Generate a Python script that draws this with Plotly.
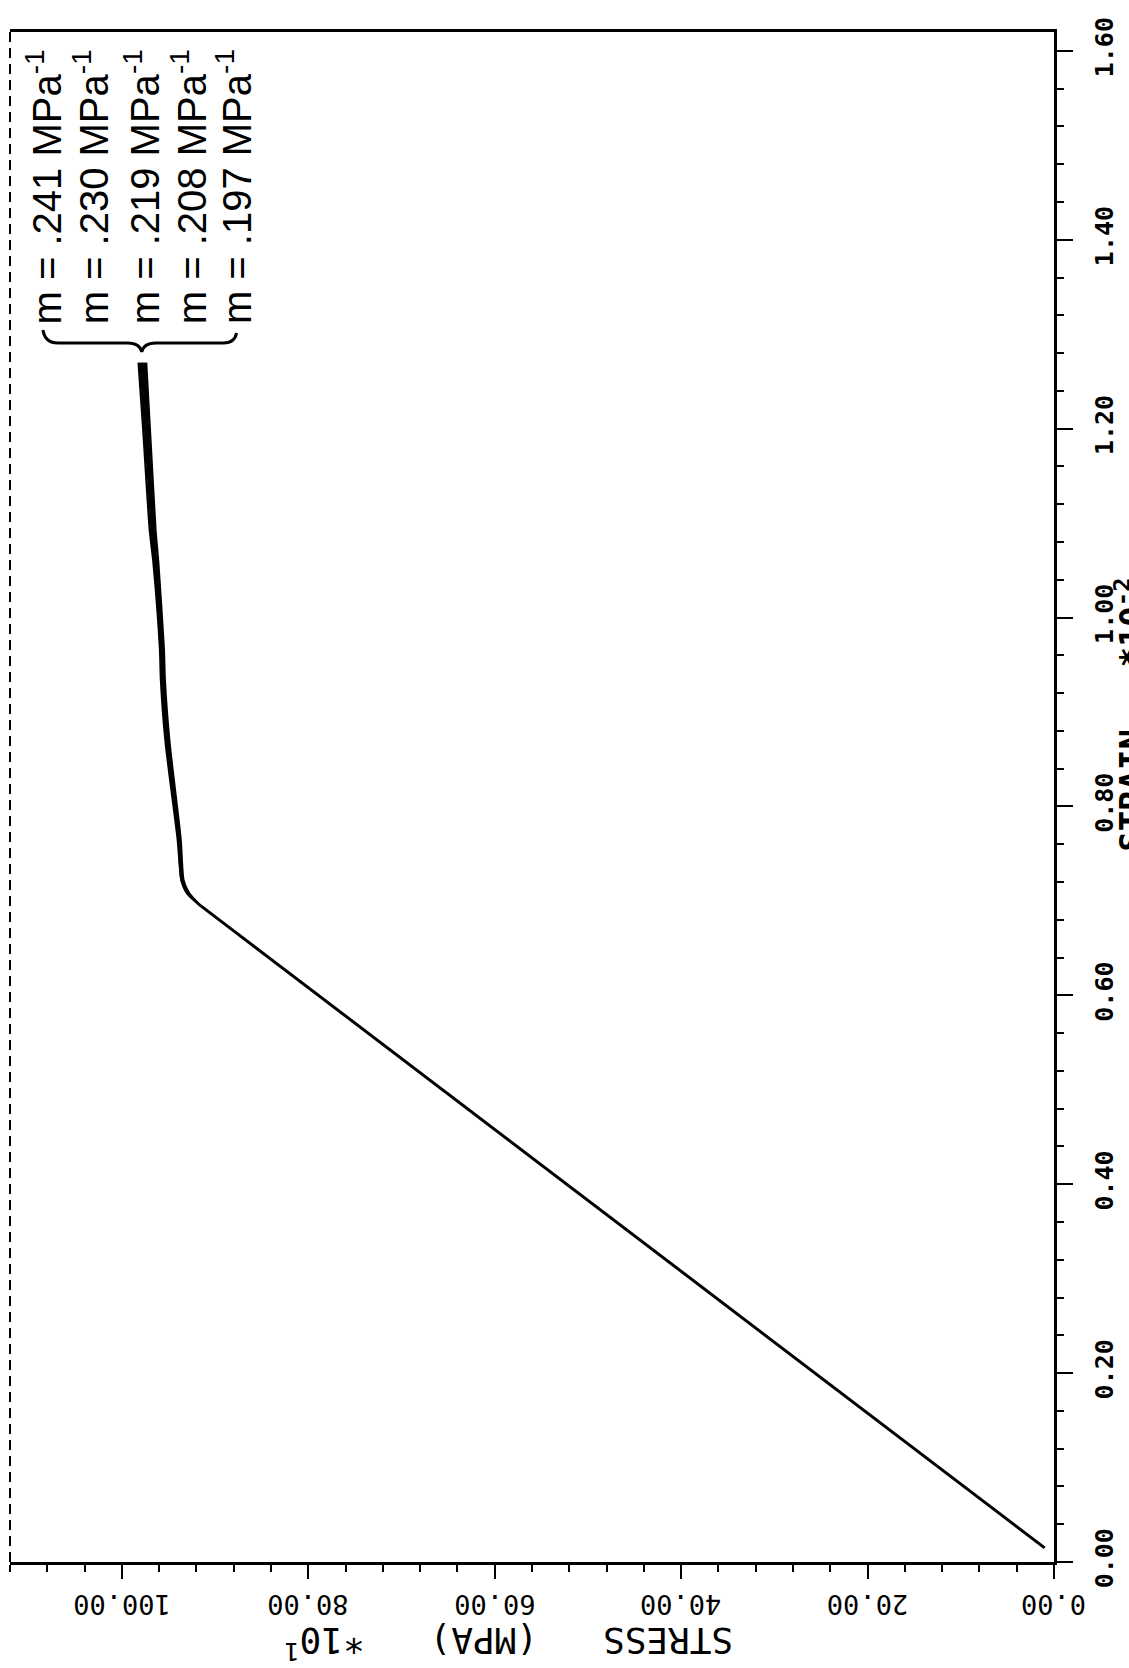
import plotly.graph_objects as go

# ---------------- data ----------------
stress_ticks = [0, 20, 40, 60, 80, 100]
stress_labels = ["0.00", "20.00", "40.00", "60.00", "80.00", "100.00"]
strain_ticks = [0.0, 0.2, 0.4, 0.6, 0.8, 1.0, 1.2, 1.4, 1.6]
strain_labels = ["0.00", "0.20", "0.40", "0.60", "0.80", "1.00", "1.20", "1.40", "1.60"]

# elastic part (stress *10 MPa, strain *10^-2)
elastic_stress = [1.0, 91.7]
elastic_strain = [0.015, 0.696]

# hardening part for the five m values
hard_strain = [0.696, 0.708, 0.722, 0.765, 0.868, 0.934, 0.966, 1.058, 1.093, 1.199, 1.270]
m_values = [".241", ".230", ".219", ".208", ".197"]
hard_stress_241 = [91.7, 92.8, 93.4, 93.7, 94.9, 95.4, 95.5, 96.1, 96.4, 97.0, 97.4]
hard_stress_230 = [91.7, 92.8, 93.5, 93.8, 95.0, 95.5, 95.6, 96.3, 96.6, 97.2, 97.6]
hard_stress_219 = [91.7, 92.9, 93.5, 93.8, 95.1, 95.6, 95.7, 96.4, 96.7, 97.3, 97.8]
hard_stress_208 = [91.7, 92.9, 93.6, 93.9, 95.2, 95.7, 95.8, 96.5, 96.8, 97.5, 98.0]
hard_stress_197 = [91.7, 93.0, 93.6, 94.0, 95.3, 95.8, 95.9, 96.6, 97.0, 97.7, 98.2]
hard_series = [hard_stress_241, hard_stress_230, hard_stress_219, hard_stress_208, hard_stress_197]

# ---------------- layout helpers ----------------
W, H = 1129, 1668
L, R, T, B = 10, 1056, 32, 1562
PW, PH = R - L, B - T


def px(x):
    return (x - L) / PW


def py(y):
    return (B - y) / PH


fig = go.Figure()

fig.add_trace(go.Scatter(x=elastic_stress, y=elastic_strain, mode="lines",
                         line=dict(color="black", width=3), hoverinfo="skip"))
for m, s in zip(m_values, hard_series):
    fig.add_trace(go.Scatter(x=s, y=hard_strain, mode="lines", name="m = " + m,
                             line=dict(color="black", width=2.4, shape="spline", smoothing=0.6),
                             hoverinfo="skip"))

mono = "DejaVu Sans Mono"
fig.update_layout(
    width=W, height=H,
    margin=dict(l=L, r=W - R, t=T, b=H - B, pad=0),
    paper_bgcolor="white", plot_bgcolor="white",
    showlegend=False,
    xaxis=dict(range=[112, 0], tickvals=stress_ticks, showticklabels=False,
               ticks="outside", ticklen=14, tickwidth=2, tickcolor="black",
               showline=True, linewidth=3, linecolor="black", mirror=True,
               showgrid=False, zeroline=False,
               minor=dict(dtick=4, tick0=0, ticks="outside", ticklen=7, tickwidth=2,
                          tickcolor="black", showgrid=False)),
    yaxis=dict(range=[0, 1.62], side="right", tickvals=strain_ticks, ticktext=strain_labels,
               tickangle=-90, ticks="outside", ticklen=16, tickwidth=2, tickcolor="black",
               ticklabelstandoff=10,
               showline=True, linewidth=3, linecolor="black", mirror=False,
               showgrid=False, zeroline=False,
               tickfont=dict(family=mono, size=25, color="black", weight="bold"),
               minor=dict(dtick=0.04, tick0=0, ticks="outside", ticklen=7, tickwidth=2,
                          tickcolor="black", showgrid=False)),
)

nb = "\u00a0"
annotations = []
# upside-down stress tick labels, centred under their ticks
for v, lab in zip(stress_ticks, stress_labels):
    annotations.append(dict(text=lab, x=v, xref="x", y=py(1621), yref="paper",
                            showarrow=False, textangle=180, borderpad=0,
                            font=dict(family=mono, size=27, color="black")))
annotations += [
    dict(text="STRESS" + nb * 3 + "(MPA)" + nb * 3 + "*10<sup>1</sup>",
         x=px(510), y=py(1667), xref="paper", yref="paper", showarrow=False,
         textangle=180, borderpad=0,
         font=dict(family=mono, size=36, color="black")),
    dict(text="STRAIN" + nb * 3 + "*10<sup>-2</sup>",
         x=px(1155), y=py(715), xref="paper", yref="paper", showarrow=False,
         textangle=-90, borderpad=0,
         font=dict(family=mono, size=34, color="black", weight="bold")),
]
legend_x = [44, 91, 142, 189, 234]
for m, lx in zip(m_values, legend_x):
    annotations.append(dict(text="m = " + m + " MPa<sup>-1</sup>",
                            x=px(lx), y=py(325), xref="paper", yref="paper",
                            xanchor="center", yanchor="bottom", showarrow=False,
                            textangle=-90, borderpad=0,
                            font=dict(family="Liberation Sans", size=40, color="black")))
fig.update_layout(annotations=annotations)

# brace under the legend and dashed left frame
brace_pts = [(43, 330), (45, 343), (58, 343), (128, 343), (140, 343), (142, 352),
             (144, 343), (156, 343), (224, 343), (235, 343), (237, 333)]
p = [(px(a), py(b)) for a, b in brace_pts]
path = (f"M {p[0][0]},{p[0][1]} Q {p[1][0]},{p[1][1]} {p[2][0]},{p[2][1]} "
        f"L {p[3][0]},{p[3][1]} Q {p[4][0]},{p[4][1]} {p[5][0]},{p[5][1]} "
        f"Q {p[6][0]},{p[6][1]} {p[7][0]},{p[7][1]} L {p[8][0]},{p[8][1]} "
        f"Q {p[9][0]},{p[9][1]} {p[10][0]},{p[10][1]}")
fig.add_shape(type="path", path=path, xref="paper", yref="paper",
              line=dict(color="black", width=3))
fig.add_shape(type="line", x0=0, x1=0, y0=0, y1=1, xref="paper", yref="paper",
              line=dict(color="black", width=2, dash="10px,6px"))

fig.write_html("out.html")
